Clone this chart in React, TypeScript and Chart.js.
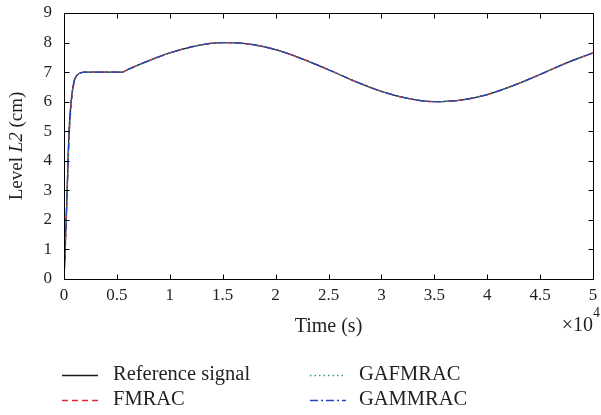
import { useEffect, useRef } from "react";
import { Chart, registerables } from "chart.js";

Chart.register(...registerables);

// Time axis in units of 10^4 s
const timeE4 = [
  0, 0.01, 0.02, 0.03, 0.04, 0.05, 0.06, 0.07, 0.08, 0.09, 0.1, 0.12, 0.15, 0.2, 0.3, 0.4, 0.5,
  0.55, 0.6, 0.65, 0.75, 0.875, 1.0, 1.25, 1.5, 1.75, 2.0, 2.25, 2.5, 2.75, 3.0, 3.25, 3.5, 3.75,
  4.0, 4.25, 4.5, 4.75, 5.0,
];

const refLevel = [
  0, 1.0, 2.0, 3.0, 4.3, 5.2, 5.7, 6.1, 6.4, 6.6, 6.75, 6.88, 6.97, 7.0, 7.0, 7.0, 7.0,
  7.0, 7.08, 7.16, 7.31, 7.49, 7.65, 7.89, 8.0, 7.95, 7.76, 7.45, 7.08, 6.69, 6.35, 6.11, 6.0, 6.05,
  6.24, 6.55, 6.92, 7.31, 7.65,
];
const fmracLevel = [
  0, 0.8, 1.8, 2.9, 4.0, 4.9, 5.5, 6.0, 6.3, 6.55, 6.72, 6.87, 6.96, 7.0, 7.0, 7.0, 7.0,
  7.0, 7.08, 7.16, 7.31, 7.49, 7.65, 7.89, 8.0, 7.95, 7.76, 7.45, 7.08, 6.69, 6.35, 6.11, 6.0, 6.05,
  6.24, 6.55, 6.92, 7.31, 7.65,
];
const gafmracLevel = [
  0, 0.85, 1.85, 2.95, 4.05, 4.95, 5.55, 6.0, 6.32, 6.56, 6.73, 6.87, 6.96, 7.0, 7.0, 7.0, 7.0,
  7.0, 7.08, 7.16, 7.31, 7.49, 7.65, 7.89, 8.0, 7.95, 7.76, 7.45, 7.08, 6.69, 6.35, 6.11, 6.0, 6.05,
  6.24, 6.55, 6.92, 7.31, 7.65,
];
const gammracLevel = [
  0, 0.85, 1.9, 3.0, 4.1, 5.0, 5.6, 6.05, 6.35, 6.58, 6.74, 6.88, 6.96, 7.0, 7.0, 7.0, 7.0,
  7.0, 7.08, 7.16, 7.31, 7.49, 7.65, 7.89, 8.0, 7.95, 7.76, 7.45, 7.08, 6.69, 6.35, 6.11, 6.0, 6.05,
  6.24, 6.55, 6.92, 7.31, 7.65,
];

const seriesLabels = ["Reference signal", "FMRAC", "GAFMRAC", "GAMMRAC"];
const xTitle = "Time (s)";

const SERIF = "'Liberation Serif', 'Times New Roman', serif";
const TEXT = "#231f20";

const seriesStyles = [
  { color: "#1a1a1a", dash: [] as number[], order: 4 },
  { color: "#e8262a", dash: [6, 4], order: 3 },
  { color: "#3aa06a", dash: [1.5, 3], order: 2 },
  { color: "#2346c4", dash: [8, 3, 2, 3], order: 1 },
];

const seriesData = [refLevel, fmracLevel, gafmracLevel, gammracLevel];

const framePlugin = {
  id: "frame",
  afterDatasetsDraw(chart: any) {
    const { ctx, chartArea } = chart;
    const { left, right, top, bottom } = chartArea;
    const xs = chart.scales.x;
    const ys = chart.scales.y;
    const tl = 5;
    ctx.save();
    ctx.strokeStyle = "#000";
    ctx.lineWidth = 1;
    ctx.setLineDash([]);
    const L = Math.round(left) + 0.5;
    const R = Math.round(right) + 0.5;
    const T = Math.round(top) + 0.5;
    const B = Math.round(bottom) + 0.5;
    ctx.beginPath();
    ctx.rect(L, T, R - L, B - T);
    xs.ticks.forEach((t: any) => {
      const px = Math.round(xs.getPixelForValue(t.value)) + 0.5;
      ctx.moveTo(px, B);
      ctx.lineTo(px, B - tl);
      ctx.moveTo(px, T);
      ctx.lineTo(px, T + tl);
    });
    ys.ticks.forEach((t: any) => {
      const py = Math.round(ys.getPixelForValue(t.value)) + 0.5;
      ctx.moveTo(L, py);
      ctx.lineTo(L + tl, py);
      ctx.moveTo(R, py);
      ctx.lineTo(R - tl, py);
    });
    ctx.stroke();
    ctx.restore();
  },
  afterDraw(chart: any) {
    const { ctx, chartArea } = chart;
    const { right, top, bottom } = chartArea;
    ctx.save();
    ctx.fillStyle = TEXT;
    ctx.textBaseline = "middle";

    // Y axis title with italic L2
    const parts = [
      { t: "Level ", f: `19px ${SERIF}` },
      { t: "L2", f: `italic 19px ${SERIF}` },
      { t: " (cm)", f: `19px ${SERIF}` },
    ];
    let total = 0;
    parts.forEach((p) => {
      ctx.font = p.f;
      total += ctx.measureText(p.t).width;
    });
    ctx.save();
    ctx.translate(17, (top + bottom) / 2);
    ctx.rotate(-Math.PI / 2);
    let cx = -total / 2;
    ctx.textAlign = "left";
    parts.forEach((p) => {
      ctx.font = p.f;
      ctx.fillText(p.t, cx, 0);
      cx += ctx.measureText(p.t).width;
    });
    ctx.restore();

    // x10^4 multiplier
    ctx.textAlign = "right";
    ctx.font = `14px ${SERIF}`;
    const supW = ctx.measureText("4").width;
    ctx.fillText("4", right + 7, bottom + 34);
    ctx.font = `20px ${SERIF}`;
    ctx.fillText("×10", right + 7 - supW, bottom + 47);

    // Legend
    const rows = [375, 400];
    const cols = [
      { lx: 62, tx: 113 },
      { lx: 310, tx: 359 },
    ];
    seriesLabels.forEach((label, i) => {
      const col = cols[Math.floor(i / 2)];
      const y = rows[i % 2];
      const st = seriesStyles[i];
      ctx.strokeStyle = st.color;
      ctx.lineWidth = 1.3;
      ctx.setLineDash(st.dash);
      ctx.beginPath();
      ctx.moveTo(col.lx, y + 0.5);
      ctx.lineTo(col.lx + 36, y + 0.5);
      ctx.stroke();
      ctx.setLineDash([]);
      ctx.textAlign = "left";
      ctx.font = `20.5px ${SERIF}`;
      ctx.fillStyle = TEXT;
      ctx.fillText(label, col.tx, y);
    });
    ctx.restore();
  },
};

export default function App() {
  const canvasRef = useRef<HTMLCanvasElement>(null);

  useEffect(() => {
    document.body.style.margin = "0";
    const canvas = canvasRef.current;
    if (!canvas) return;
    const chart = new Chart(canvas, {
      type: "line",
      data: {
        datasets: seriesData.map((vals, i) => ({
          label: seriesLabels[i],
          data: timeE4.map((t, k) => ({ x: t, y: vals[k] })),
          borderColor: seriesStyles[i].color,
          borderDash: seriesStyles[i].dash,
          borderWidth: 1.3,
          pointRadius: 0,
          fill: false,
          cubicInterpolationMode: "monotone" as const,
          order: seriesStyles[i].order,
        })),
      },
      options: {
        animation: false,
        responsive: true,
        maintainAspectRatio: false,
        layout: { padding: { top: 13, right: 8, left: 0, bottom: 74 } },
        plugins: {
          legend: { display: false },
          tooltip: { enabled: false },
        },
        scales: {
          x: {
            type: "linear",
            min: 0,
            max: 5,
            grid: { display: false, drawTicks: false },
            border: { display: false },
            ticks: {
              stepSize: 0.5,
              autoSkip: false,
              maxRotation: 0,
              padding: 6,
              color: TEXT,
              font: { family: SERIF, size: 17 },
              callback: (v: any) => String(Number(v)),
            },
            title: {
              display: true,
              text: xTitle,
              color: TEXT,
              font: { family: SERIF, size: 20 },
              padding: { top: 2, bottom: 2 },
            },
            afterFit: (s: any) => {
              s.height = 62;
              s.paddingLeft = 0;
              s.paddingRight = 0;
            },
          },
          y: {
            type: "linear",
            min: 0,
            max: 9,
            grid: { display: false, drawTicks: false },
            border: { display: false },
            ticks: {
              stepSize: 1,
              padding: 12,
              color: TEXT,
              font: { family: SERIF, size: 17 },
            },
            afterFit: (s: any) => {
              s.width = 64;
              s.paddingTop = 0;
              s.paddingBottom = 0;
            },
          },
        },
      },
      plugins: [framePlugin],
    });
    return () => chart.destroy();
  }, []);

  return (
    <div style={{ width: 601, height: 415, position: "relative" }}>
      <canvas ref={canvasRef} />
    </div>
  );
}
